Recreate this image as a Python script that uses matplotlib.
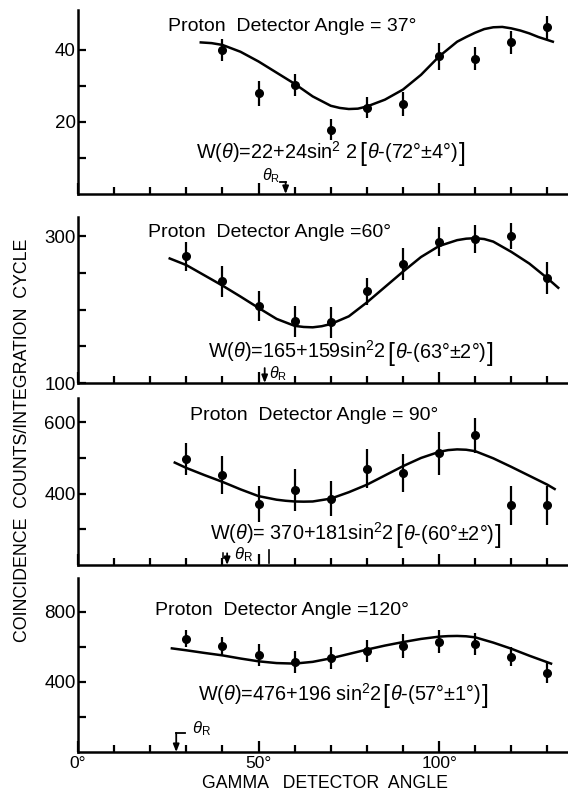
import matplotlib
matplotlib.use('Agg')
import matplotlib.pyplot as plt
import matplotlib.transforms as mtransforms
from matplotlib.ticker import FixedLocator, FixedFormatter, NullFormatter

plt.rcParams['font.family'] = ['Liberation Sans', 'DejaVu Sans']
plt.rcParams['mathtext.fontset'] = 'custom'
plt.rcParams['mathtext.rm'] = 'Liberation Sans'
plt.rcParams['mathtext.it'] = 'Liberation Sans:italic'

# gamma detector angles (deg)
gamma_angle = [30, 40, 50, 60, 70, 80, 90, 100, 110, 120, 130]

# proton detector angle = 37 deg (no point at 30 deg)
angle_37 = gamma_angle[1:]
counts_37 = [40.0, 28.0, 30.3, 17.9, 24.0, 25.0, 38.2, 37.5, 42.1, 46.3]
err_37 = [3.0, 3.5, 3.1, 3.0, 2.8, 3.2, 3.7, 3.2, 3.1, 3.2]
fit_x_37 = [34, 37, 40, 45, 50, 55, 60, 65, 70, 72.5, 75, 77.5, 80, 85, 90, 95, 100,
            105, 107.5, 110, 112.5, 115, 117.5, 120, 122.5, 125, 127.5, 131.5]
fit_y_37 = [42.1, 41.9, 41.4, 39.5, 36.8, 33.7, 30.6, 27.1, 24.5, 23.9, 23.6, 23.7, 24.3, 26.2, 29.0, 33.1, 38.2,
            42.3, 43.6, 44.8, 45.8, 46.3, 46.4, 46.0, 45.4, 44.6, 43.6, 42.3]

# proton detector angle = 60 deg
counts_60 = [273, 239, 205, 184, 183, 225, 262, 293, 297, 301, 243]
err_60 = [20, 21, 21, 21, 21, 18, 22, 20, 19, 18, 22]
fit_x_60 = [25.4, 30, 35, 40, 45, 50, 55, 60, 62.5, 65, 67.5, 70, 75, 80, 85, 90, 95, 100,
            105, 107.5, 110, 112.5, 115, 120, 125, 130, 133]
fit_y_60 = [270, 261, 247, 233, 218, 202.5, 187.5, 178, 176.5, 176, 177.5, 180.5, 191, 210, 231, 252, 272, 287,
            295, 297, 297.7, 296.5, 293, 279, 263, 243, 230]

# proton detector angle = 90 deg
counts_90 = [497, 452, 370, 411, 386, 470, 458, 513, 564, 367, 367]
err_90 = [45, 53, 50, 59, 49, 54, 54, 60, 49, 54, 55]
fit_x_90 = [26.8, 30, 35, 40, 45, 50, 55, 57.5, 60, 62.5, 65, 70, 75, 80, 85, 90, 95, 100,
            102.5, 105, 107.5, 110, 115, 120, 125, 130, 132]
fit_y_90 = [487, 472, 452, 433, 412, 393, 383, 380, 378, 377.5, 378, 386, 404, 425, 451, 477, 500, 517,
            522, 524, 523, 519, 499, 475, 450, 425, 413]

# proton detector angle = 120 deg
counts_120 = [648, 606, 554, 514, 539, 577, 606, 630, 615, 545, 453]
err_120 = [50, 50, 62, 64, 62, 64, 67, 67, 62, 53, 57]
fit_x_120 = [26, 30, 35, 40, 45, 50, 55, 60, 65, 70, 75, 80, 85, 90, 95, 100,
             102.5, 105, 107.5, 110, 115, 120, 125, 131]
fit_y_120 = [592, 581, 566, 552, 534, 518, 508, 505, 515, 535, 560, 585, 608, 628, 646, 659,
             662, 663, 661, 655, 625, 590, 550, 505]

titles = ['Proton  Detector Angle = 37°', 'Proton  Detector Angle =60°',
          'Proton  Detector Angle = 90°', 'Proton  Detector Angle =120°']
formula_head = [r'W($\theta$)=22+24sin$^{2}$ 2', r'W($\theta$)=165+159sin$^{2}$2',
                r'W($\theta$)= 370+181sin$^{2}$2', r'W($\theta$)=476+196 sin$^{2}$2']
formula_tail = [r'$\theta$-(72°±4°)', r'$\theta$-(63°±2°)', r'$\theta$-(60°±2°)', r'$\theta$-(57°±1°)']
recoil_angle = [57.5, 51.7, 41.3, 27.2]

y_major = [[20, 40], [100, 300], [400, 600], [400, 800]]
y_minor = [[10, 30], [150, 200, 250], [300, 500], [200, 600]]
y_lims = [(0, 51.1), (100, 326.6), (200, 668), (0, 994)]

W, H = 568, 792
fig = plt.figure(figsize=(W / 100, H / 100), dpi=100)
boxes = [(10, 194), (217, 383), (398, 565), (578, 752)]   # top, bottom in px
left = 78

panels = [
    (angle_37, counts_37, err_37, fit_x_37, fit_y_37),
    (gamma_angle, counts_60, err_60, fit_x_60, fit_y_60),
    (gamma_angle, counts_90, err_90, fit_x_90, fit_y_90),
    (gamma_angle, counts_120, err_120, fit_x_120, fit_y_120),
]

# where texts sit in each panel (data coords)
title_pos = [(25.0, 46.6), (19.4, 305.5), (31.0, 620.0), (21.2, 806.0)]
formula_pos = [(32.8, 9.9), (36.0, 134.0), (36.6, 270.0), (33.1, 295.0)]

renderer = fig.canvas.get_renderer()


def chain_text(ax, x, y, pieces):
    # write pieces one after another on the same baseline
    for s, size, dy in pieces:
        tr = mtransforms.offset_copy(ax.transData, fig=fig, x=0, y=dy, units='points')
        t = ax.text(x, y, s, fontsize=size, ha='left', va='baseline', transform=tr)
        bb = t.get_window_extent(renderer)
        x = ax.transData.inverted().transform((bb.x1 + 1, 0))[0]


def recoil_marker(ax, i, x, ylo, yhi):
    span = yhi - ylo
    top = ylo + span * [0.065, 0.09, 0.07, 0.11][i]
    ax.annotate('', xy=(x, ylo), xytext=(x, top),
                arrowprops=dict(arrowstyle='-|>,head_length=0.45,head_width=0.18',
                                color='black', lw=1.3, shrinkA=0, shrinkB=0))
    if i == 0:
        ax.plot([x - 1.5, x], [top, top], color='black', lw=1.3)
        ax.text(x - 1.6, top - span * 0.015, r'$\theta_{\mathrm{R}}$', fontsize=11.5, ha='right', va='bottom')
    elif i == 1:
        ax.text(x + 1.2, ylo + span * 0.002, r'$\theta_{\mathrm{R}}$', fontsize=11.5, ha='left', va='bottom')
    elif i == 2:
        ax.plot([x - 1.2, x - 1.2, x - 0.5], [top, top - span * 0.03, top - span * 0.03],
                color='black', lw=1.1)
        ax.text(x + 2.0, ylo + span * 0.005, r'$\theta_{\mathrm{R}}$', fontsize=12, ha='left', va='bottom')
        ax.plot([53, 53], [ylo + span * 0.01, ylo + span * 0.09], color='black', lw=1.2)
    else:
        ax.plot([x, x + 2.5], [top, top], color='black', lw=1.3)
        ax.text(x + 4.5, top - span * 0.03, r'$\theta_{\mathrm{R}}$', fontsize=12, ha='left', va='bottom')


for i, (top, bottom) in enumerate(boxes):
    ax = fig.add_axes([left / W, 1 - bottom / H, (W - left) / W, (bottom - top) / H])
    xs, ys, es, fx, fy = panels[i]

    ax.errorbar(xs, ys, yerr=es, fmt='o', color='black', ms=5.5, elinewidth=1.6, capsize=0)
    ax.plot(fx, fy, color='black', lw=1.8, solid_joinstyle='round')

    ax.set_xlim(0, 135.7)
    ax.set_ylim(*y_lims[i])
    for side in ['top', 'right']:
        ax.spines[side].set_visible(False)
    for side in ['left', 'bottom']:
        ax.spines[side].set_linewidth(1.8)

    ax.xaxis.set_major_locator(FixedLocator([0, 50, 100]))
    ax.xaxis.set_minor_locator(FixedLocator([10, 20, 30, 40, 60, 70, 80, 90, 110, 120, 130]))
    ax.xaxis.set_minor_formatter(NullFormatter())
    ax.tick_params(axis='x', which='major', direction='in', length=8, width=1.6, pad=3, labelsize=12.5)
    ax.tick_params(axis='x', which='minor', direction='in', length=5, width=1.6)
    if i == 3:
        ax.xaxis.set_major_formatter(FixedFormatter(['0°', '50°', '100°']))
    else:
        ax.tick_params(axis='x', labelbottom=False)

    ax.yaxis.set_major_locator(FixedLocator(y_major[i]))
    ax.yaxis.set_minor_locator(FixedLocator(y_minor[i]))
    ax.yaxis.set_minor_formatter(NullFormatter())
    ax.tick_params(axis='y', which='both', direction='in', length=5.5, width=1.6, pad=1.5, labelsize=13.5)

    tx, ty = title_pos[i]
    ax.text(tx, ty, titles[i], fontsize=14, ha='left', va='center')

    fx0, fy0 = formula_pos[i]
    chain_text(ax, fx0, fy0, [(formula_head[i], 14.3, 0), ('[', 18, -2),
                              (formula_tail[i], 14.3, 0), (']', 18, -2)])

    recoil_marker(ax, i, recoil_angle[i], *y_lims[i])

fig.text(23 / W, 1 - 440 / H, 'COINCIDENCE  COUNTS/INTEGRATION  CYCLE', rotation=90,
         fontsize=12.8, ha='center', va='center')
fig.text(325 / W, 1 - 783 / H, 'GAMMA   DETECTOR  ANGLE', fontsize=12.7, ha='center', va='center')

fig.savefig('out.png', dpi=100)
